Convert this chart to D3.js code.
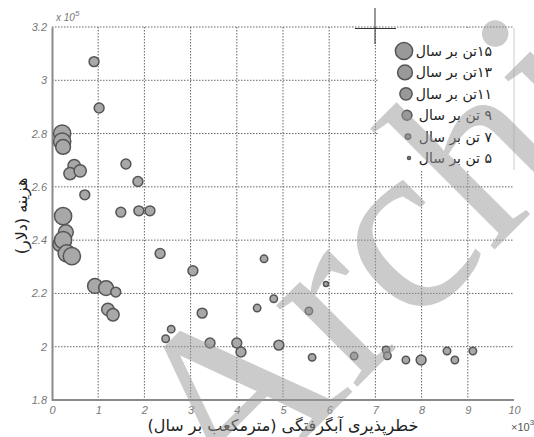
<!DOCTYPE html>
<html>
<head>
<meta charset="utf-8">
<script src="https://cdn.jsdelivr.net/npm/d3@7"></script>
<style>
  body { margin: 0; background: #fff; }
  svg { display: block; }
</style>
</head>
<body>
<div class="chart"></div>
<script>
// flood risk (x 10^3 m3/yr), cost (x 10^5 $), capacity (ton/yr)
var riskX = [0.91, 1.02, 0.22, 0.22, 0.24, 0.48, 0.39, 0.61, 0.71, 1.6, 1.86, 1.49, 1.88, 2.12, 2.34,
  0.24, 0.3, 0.18, 0.24, 0.32, 0.43, 0.93, 1.17, 1.38, 1.21, 1.32, 2.46, 2.58,
  3.05, 4.59, 3.25, 4.44, 4.8, 5.93, 5.56, 3.42, 4.0, 4.09, 4.91, 5.63, 6.54,
  7.23, 7.26, 7.66, 7.99, 8.55, 8.72, 9.11]
var costY = [3.07, 2.896, 2.80, 2.77, 2.75, 2.68, 2.65, 2.66, 2.57, 2.686, 2.62, 2.505, 2.51, 2.51, 2.35,
  2.49, 2.43, 2.385, 2.40, 2.35, 2.34, 2.228, 2.22, 2.205, 2.14, 2.12, 2.03, 2.066,
  2.285, 2.33, 2.126, 2.145, 2.18, 2.235, 2.134, 2.014, 2.014, 1.98, 2.006, 1.96, 1.965,
  1.988, 1.966, 1.95, 1.95, 1.984, 1.95, 1.984]
var capacity = [9, 9, 15, 15, 13, 11, 11, 11, 9, 9, 9, 9, 9, 9, 9,
  15, 13, 13, 15, 15, 15, 13, 13, 9, 11, 11, 7, 7,
  9, 7, 9, 7, 7, 5, 7, 9, 9, 9, 9, 7, 7,
  7, 7, 7, 9, 7, 7, 7]

var legendSizes = [15, 13, 11, 9, 7, 5]
var legendLabels = ['۱۵تن بر سال', '۱۳تن بر سال', '۱۱تن بر سال', '۹ تن بر سال', '۷ تن بر سال', '۵ تن بر سال']
var xTicks = [0, 1, 2, 3, 4, 5, 6, 7, 8, 9, 10]
var yTicks = [1.8, 2, 2.2, 2.4, 2.6, 2.8, 3, 3.2]
var xTitle = 'خطرپذیری آبگرفتگی (مترمکعب بر سال)'
var yTitle = 'هزینه (دلار)'

var width = 534
var height = 437
var mLeft = 52, mRight = 514, mTop = 27, mBottom = 400

var svg = d3.select('.chart')
  .append('svg')
  .attr('width', width)
  .attr('height', height)

var x = d3.scaleLinear().domain([0, 10]).range([mLeft, mRight])
var y = d3.scaleLinear().domain([1.8, 3.2]).range([mBottom, mTop])
var r = d3.scaleLinear().domain([5, 15]).range([2.5, 8.6])

var tickFont = '"Liberation Sans", Arial, sans-serif'
var faFont = '"DejaVu Sans", sans-serif'

// grid
svg.append('g')
  .selectAll('line')
  .data(xTicks.slice(1, -1))
  .enter()
  .append('line')
  .attr('x1', function(d) { return x(d) })
  .attr('x2', function(d) { return x(d) })
  .attr('y1', mTop)
  .attr('y2', mBottom)
  .attr('stroke', '#666')
  .attr('stroke-dasharray', '1.5,1.5')

svg.append('g')
  .selectAll('line')
  .data(yTicks.slice(1))
  .enter()
  .append('line')
  .attr('x1', mLeft)
  .attr('x2', mRight)
  .attr('y1', function(d) { return y(d) })
  .attr('y2', function(d) { return y(d) })
  .attr('stroke', '#666')
  .attr('stroke-dasharray', '1.5,1.5')

// legend box covers grid
var lg = svg.append('g')
lg.append('rect')
  .attr('x', 379).attr('y', mTop + 1)
  .attr('width', mRight - 379).attr('height', 142)
  .attr('fill', '#fff')
lg.append('line')
  .attr('x1', mRight).attr('x2', mRight)
  .attr('y1', mTop + 1).attr('y2', mTop + 143)
  .attr('stroke', '#ccc')

// axes
var xAxis = svg.append('g')
  .attr('transform', 'translate(0,' + mBottom + ')')
  .call(d3.axisBottom(x).tickValues(xTicks).tickSize(0).tickPadding(6).tickFormat(d3.format('d')))
var yAxis = svg.append('g')
  .attr('transform', 'translate(' + mLeft + ',0)')
  .call(d3.axisLeft(y).tickValues(yTicks).tickSize(0).tickPadding(5).tickFormat(function(d) { return String(+d.toFixed(1)) }))

;[xAxis, yAxis].forEach(function(a) {
  a.select('.domain').attr('stroke', '#8a8a8a').attr('stroke-width', 2)
  a.selectAll('text')
    .attr('fill', '#777')
    .style('font-family', tickFont)
    .style('font-style', 'italic')
    .style('font-size', '11px')
})
xAxis.select('.domain').attr('d', 'M' + mLeft + ',0H' + mRight)

// exponent labels
var exp1 = svg.append('text')
  .attr('x', 56).attr('y', 21)
  .attr('fill', '#777')
  .style('font-family', tickFont).style('font-style', 'italic').style('font-size', '10px')
exp1.append('tspan').text('x 10')
exp1.append('tspan').attr('dy', -5).style('font-size', '8px').text('5')

var exp2 = svg.append('text')
  .attr('x', 511).attr('y', 431)
  .attr('fill', '#555')
  .style('font-family', tickFont).style('font-size', '11px')
exp2.append('tspan').text('×10')
exp2.append('tspan').attr('dy', -6).style('font-size', '8px').text('3')

// points
var pts = riskX.map(function(d, i) { return { x: d, y: costY[i], c: capacity[i] } })
svg.append('g')
  .selectAll('circle')
  .data(pts)
  .enter()
  .append('circle')
  .attr('cx', function(d) { return x(d.x) })
  .attr('cy', function(d) { return y(d.y) })
  .attr('r', function(d) { return r(d.c) })
  .attr('fill', '#a8a8a8')
  .attr('stroke', '#555')
  .attr('stroke-width', 1.5)

// legend entries
var items = lg.selectAll('.item')
  .data(legendSizes)
  .enter()
  .append('g')
  .attr('class', 'item')
  .attr('transform', function(d, i) { return 'translate(0,' + (51 + i * 21.4) + ')' })
items.append('circle')
  .attr('cx', function(d) { return 404 + (15 - d) * 0.5 })
  .attr('r', function(d) { return d >= 9 ? r(d) : r(d) - 1 })
  .attr('fill', '#999')
  .attr('stroke', '#555')
  .attr('stroke-width', 1.5)
items.append('text')
  .attr('x', 492)
  .attr('y', 5)
  .attr('direction', 'rtl')
  .attr('text-anchor', 'start')
  .attr('fill', '#222')
  .style('font-family', faFont)
  .style('font-size', '14px')
  .text(function(d, i) { return legendLabels[i] })

// titles
svg.append('text')
  .attr('x', 283).attr('y', 431)
  .attr('direction', 'rtl')
  .attr('text-anchor', 'middle')
  .attr('fill', '#222')
  .style('font-family', faFont)
  .style('font-size', '16px')
  .text(xTitle)
svg.append('text')
  .attr('transform', 'translate(27,216) rotate(-90)')
  .attr('direction', 'rtl')
  .attr('text-anchor', 'middle')
  .attr('fill', '#222')
  .style('font-family', faFont)
  .style('font-size', '16px')
  .text(yTitle)

// crosshair mark near top
svg.append('path')
  .attr('d', 'M355,28.5H396M375,8V44')
  .attr('stroke', '#333')
  .attr('stroke-width', 1)

// watermark
svg.append('text')
  .attr('transform', 'translate(226,518) rotate(-45)')
  .attr('fill', '#999')
  .attr('opacity', 0.5)
  .style('font-family', '"Liberation Serif", serif')
  .style('font-size', '250px')
  .text('Archive')
</script>
</body>
</html>
